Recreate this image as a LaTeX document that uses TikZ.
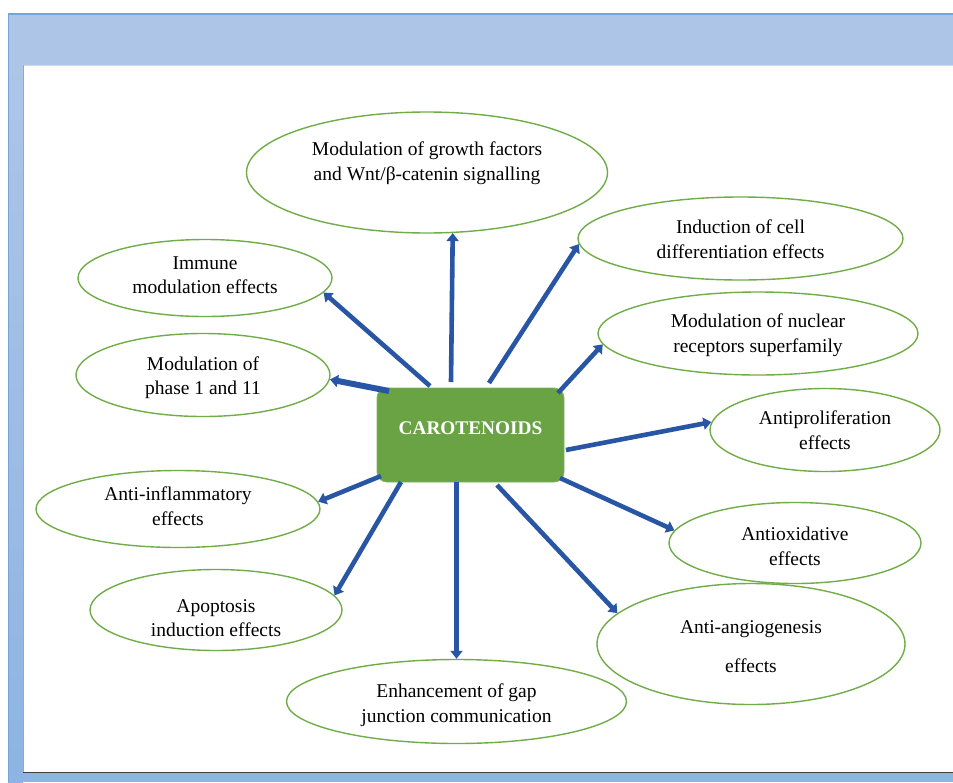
\documentclass[tikz,border=0pt]{standalone}
\usepackage{fontspec}
\setmainfont{Liberation Serif}
\usetikzlibrary{shapes.geometric,arrows.meta}
\definecolor{framedeep}{RGB}{141,180,226}
\definecolor{framelight}{RGB}{173,197,231}
\definecolor{frameedge}{RGB}{118,164,218}
\definecolor{leafgreen}{RGB}{112,173,71}
\definecolor{hubgreen}{RGB}{106,163,68}
\definecolor{arrowblue}{RGB}{40,86,164}
\begin{document}
\begin{tikzpicture}[x=1pt,y=-1pt,
  leaf/.style={ellipse, draw=leafgreen, line width=1.4pt, inner sep=0pt},
  leaftext/.style={align=center, font=\fontsize{19.5}{24.5}\selectfont, text depth=4.5pt},
  hub/.style={rectangle, rounded corners=10pt, fill=hubgreen, draw=hubgreen!85!white,
    line width=0.8pt, minimum width=187pt, minimum height=94pt, inner sep=0pt},
  push/.style={draw=arrowblue, line width=4.6pt, -{Triangle[width=12pt,length=8pt]}},
]
\useasboundingbox (0,0) rectangle (953,782);

% window frame
\fill[framedeep] (8,13) rectangle (953,782);
\fill[framelight] (8,13) rectangle (953,65);
\shade[top color=framelight, bottom color=framedeep] (8,65) rectangle (23,782);
\draw[frameedge, line width=1.5pt] (8,13.75) -- (953,13.75);
\draw[frameedge, line width=1pt] (8.5,13) -- (8.5,782);
\fill[white] (23,65) rectangle (953,773);
\draw[black!15, line width=0.8pt] (23,65.4) -- (953,65.4);
\draw[black!35, line width=0.8pt] (23.4,65) -- (23.4,773);
\draw[black!75, line width=1pt] (23,772.5) -- (953,772.5);

% central box
\node[hub, label={[text=white, font=\fontsize{19.3}{23}\selectfont\bfseries, yshift=7pt]center:CAROTENOIDS}]
  (hub) at (470.5,435) {};

% effect ellipses
\node[leaf, minimum width=361pt, minimum height=121pt,
  label={[leaftext, yshift=9pt]center:Modulation of growth factors\\and Wnt/β-catenin signalling}]
  (growth) at (427,172.5) {};
\node[leaf, minimum width=325pt, minimum height=83pt,
  label={[leaftext, yshift=-3pt]center:Induction of cell\\differentiation effects}]
  (diff) at (740.5,238.5) {};
\node[leaf, minimum width=254pt, minimum height=77pt,
  label={[leaftext, yshift=0.5pt]center:Immune\\modulation effects}]
  (immune) at (205,278) {};
\node[leaf, minimum width=320pt, minimum height=83pt,
  label={[leaftext, yshift=-2pt]center:Modulation of nuclear\\receptors superfamily}]
  (nuclear) at (758,333.5) {};
\node[leaf, minimum width=254pt, minimum height=83pt,
  label={[leaftext, yshift=-3pt]center:Modulation of\\phase 1 and 11}]
  (phase) at (203,375) {};
\node[leaf, minimum width=230pt, minimum height=83pt,
  label={[leaftext, yshift=-2.5pt]center:Antiproliferation\\effects}]
  (prolif) at (825,430) {};
\node[leaf, minimum width=284pt, minimum height=77pt,
  label={[leaftext, yshift=0.5pt]center:Anti-inflammatory\\effects}]
  (inflam) at (178,509) {};
\node[leaf, minimum width=252pt, minimum height=81pt,
  label={[leaftext, yshift=-5.5pt]center:Antioxidative\\effects}]
  (oxid) at (795,543) {};
\node[leaf, minimum width=252pt, minimum height=81pt,
  label={[leaftext, yshift=-10.5pt]center:Apoptosis\\induction effects}]
  (apop) at (216,610) {};
\node[leaf, minimum width=308pt, minimum height=121pt,
  label={[leaftext, font=\fontsize{19.5}{38.5}\selectfont, yshift=-5pt]center:Anti-angiogenesis\\effects}]
  (angio) at (751,644) {};
\node[leaf, minimum width=340pt, minimum height=84pt,
  label={[leaftext, yshift=-4pt]center:Enhancement of gap\\junction communication}]
  (gap) at (456.5,701.5) {};

% arrow roots just outside the central box
\coordinate (o-growth) at (451,382);
\coordinate (o-diff)   at (489,383);
\coordinate (o-nuc)    at (558,393);
\coordinate (o-prolif) at (566,450);
\coordinate (o-oxid)   at (560,478);
\coordinate (o-angio)  at (497,485);
\coordinate (o-gap)    at (456.5,482);
\coordinate (o-apop)   at (401,482);
\coordinate (o-inflam) at (381,476);
\coordinate (o-phase)  at (389,391);
\coordinate (o-immune) at (430,386);

% arrows
\draw[push] (o-growth) -- (growth.-67.5);
\draw[push] (o-diff)   -- (diff.182.7);
\draw[push] (o-nuc)    -- (nuclear.184.7);
\draw[push] (o-prolif) -- (prolif.176.4);
\draw[push] (o-oxid)   -- (oxid.174);
\draw[push] (o-angio)  -- (angio.167.7);
\draw[push] (o-gap)    -- (gap.north);
\draw[push] (o-apop)   -- (apop.7.3);
\draw[push] (o-inflam) -- (inflam.3.5);
\draw[push, line width=6pt] (o-phase) -- (phase.-2.7);
\draw[push] (o-immune) -- (immune.-7.6);
\end{tikzpicture}
\end{document}
